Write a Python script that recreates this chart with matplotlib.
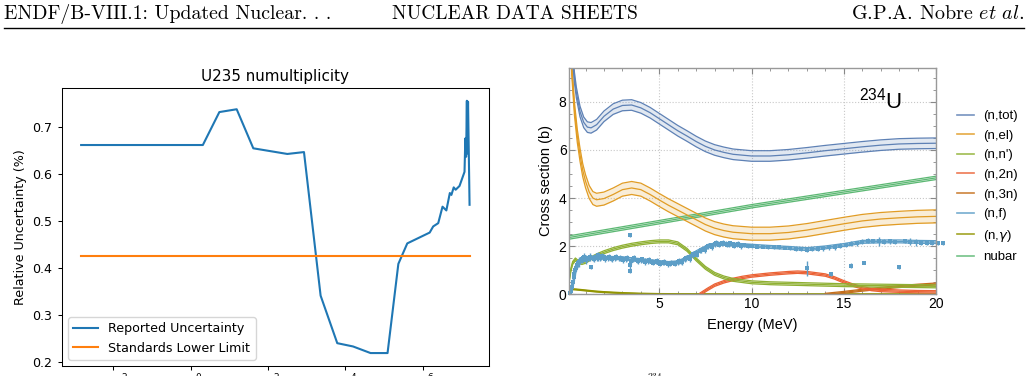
import numpy as np
import matplotlib
matplotlib.use('Agg')
import matplotlib.pyplot as plt
from matplotlib.lines import Line2D
from matplotlib.ticker import FixedLocator, NullLocator, MultipleLocator

plt.rcParams['mathtext.rm'] = 'Liberation Sans'
plt.rcParams['mathtext.it'] = 'Liberation Sans:italic'

# ---------------- left panel data (U235 nu multiplicity uncertainty) ----------
nu_energy = [1.48e-3, 2.07, 5.53, 15.5, 41.7, 316, 851, 2290, 6170, 1.58e4, 4.47e4,
             1.23e5, 2.34e5, 3.98e5, 1.51e6, 1.86e6, 2.51e6, 3.24e6, 4.07e6, 5.01e6,
             5.5e6, 6.31e6, 7.08e6, 8.91e6, 1.2e7, 1.26e7, 1.32e7, 1.38e7, 1.41e7,
             1.48e7, 1.62e7]
nu_unc = [0.661, 0.661, 0.731, 0.737, 0.654, 0.642, 0.646, 0.341, 0.240, 0.233, 0.219,
          0.219, 0.4085, 0.452, 0.475, 0.488, 0.495, 0.530, 0.522, 0.559,
          0.555, 0.571, 0.566, 0.574, 0.604, 0.675, 0.636, 0.755, 0.643,
          0.753, 0.534]
std_limit = 0.4245
left_xticks = [1e-2, 1e0, 1e2, 1e4, 1e6]
left_xticklabels = [r'$\mathdefault{10^{-2}}$', r'$\mathdefault{10^{0}}$',
                    r'$\mathdefault{10^{2}}$', r'$\mathdefault{10^{4}}$',
                    r'$\mathdefault{10^{6}}$']

# ---------------- right panel data (234U cross sections, MeV / b) -------------
tot_E = [0.1, 0.2, 0.3, 0.4, 0.5, 0.7, 0.9, 1.1, 1.3, 1.6, 2.0, 2.5, 3.0, 3.5, 4.0, 4.5,
         5.0, 5.5, 6.0, 6.5, 7, 7.5, 8, 8.5, 9, 10, 11, 12, 13, 14, 15, 16, 17, 18, 19, 20]
tot_xs = [14, 11.5, 9.9, 9.0, 8.4, 7.6, 7.15, 6.95, 6.92, 7.05, 7.4, 7.7, 7.85, 7.87,
          7.75, 7.55, 7.3, 7.05, 6.8, 6.58, 6.35, 6.15, 6.0, 5.9, 5.82, 5.75, 5.75, 5.8,
          5.88, 5.97, 6.05, 6.13, 6.2, 6.25, 6.27, 6.28]
tot_err = 0.22

el_E = [0.1, 0.25, 0.4, 0.55, 0.7, 0.85, 1.0, 1.2, 1.4, 1.6, 2.0, 2.5, 3.0, 3.5, 4.0,
        4.5, 5.0, 5.5, 6.0, 6.5, 7, 7.5, 8, 8.5, 9, 10, 11, 12, 13, 14, 15, 16, 17, 18,
        19, 20]
el_xs = [13, 9.4, 7.7, 6.6, 5.8, 5.15, 4.7, 4.25, 4.0, 3.93, 3.98, 4.15, 4.35, 4.42,
         4.35, 4.15, 3.92, 3.7, 3.5, 3.3, 3.1, 2.9, 2.75, 2.65, 2.58, 2.52, 2.52, 2.57,
         2.67, 2.8, 2.93, 3.05, 3.13, 3.18, 3.22, 3.24]
el_err = 0.27

inel_E = [0.1, 0.2, 0.3, 0.45, 0.6, 0.8, 1.0, 1.3, 1.6, 2.0, 2.5, 3.0, 3.5, 4.0, 4.5,
          5.0, 5.5, 6.0, 6.5, 7.0, 7.5, 8.0, 8.5, 9, 10, 11, 12, 13, 14, 15, 16, 17,
          18, 19, 20]
inel_xs = [0.5, 1.0, 1.3, 1.45, 1.35, 1.3, 1.35, 1.5, 1.62, 1.75, 1.88, 1.98, 2.06,
           2.12, 2.17, 2.2, 2.2, 2.12, 1.85, 1.45, 1.1, 0.85, 0.7, 0.6, 0.5, 0.46,
           0.44, 0.42, 0.4, 0.38, 0.37, 0.36, 0.35, 0.34, 0.33]
inel_err = 0.06

n2n_E = [7.2, 7.6, 8, 8.5, 9, 9.5, 10, 10.5, 11, 11.5, 12, 12.5, 13, 13.5, 14, 14.5,
         15, 15.5, 16, 16.5, 17, 18, 19, 20]
n2n_xs = [0, 0.2, 0.38, 0.52, 0.62, 0.7, 0.76, 0.8, 0.84, 0.87, 0.9, 0.92, 0.9, 0.85,
          0.8, 0.68, 0.52, 0.38, 0.27, 0.2, 0.16, 0.13, 0.11, 0.1]
n2n_err = 0.05

n3n_E = [14, 15, 16, 17, 18, 19, 20]
n3n_xs = [0, 0.08, 0.17, 0.25, 0.32, 0.38, 0.43]
n3n_err = 0.04

fis_E = [0.1, 0.3, 0.5, 0.7, 1.0, 1.5, 2, 3, 4, 5, 5.5, 6, 6.5, 7, 7.5, 8, 8.5, 9, 10,
         11, 12, 13, 14, 15, 16, 17, 18, 19, 20]
fis_xs = [0.02, 0.45, 1.05, 1.35, 1.5, 1.52, 1.52, 1.5, 1.42, 1.34, 1.3, 1.33, 1.5,
          1.75, 1.95, 2.08, 2.1, 2.07, 2.02, 1.97, 1.93, 1.88, 1.95, 2.05, 2.18, 2.2,
          2.2, 2.18, 2.17]
fis_err = 0.06

cap_E = [0.1, 0.5, 1, 1.5, 2, 3, 4, 5, 6, 8, 10, 15, 20]
cap_xs = [0.22, 0.2, 0.16, 0.12, 0.09, 0.05, 0.025, 0.01, 0.005, 0.002, 0.001, 0.0, 0.0]
cap_err = 0.02

nubar_E = [0.1, 5, 10, 15, 20]
nubar_val = [2.36, 3.0, 3.66, 4.25, 4.84]
nubar_err = 0.07

# experimental (n,f) points, first data set
exp_E = [0.15, 0.2, 0.25, 0.3, 0.35, 0.4, 0.45, 0.5, 0.55, 0.6, 0.7, 0.8, 0.9, 1.0,
         1.1, 1.2, 1.3, 1.4, 1.5, 1.6, 1.7, 1.8, 1.9, 2.0, 2.2, 2.4, 2.6, 2.8, 3.0,
         3.2, 3.4, 3.4, 3.4, 3.6, 3.8, 4.0, 4.2, 4.4, 4.6, 4.8, 5.0, 5.2, 5.4, 5.6,
         5.8, 6.0, 6.2, 6.4, 6.6, 6.8, 7.0, 7.2, 7.4, 7.6, 7.8, 8.0, 8.2, 8.4, 8.6,
         8.8, 9.0, 9.2, 9.4, 9.6, 9.8, 10.0, 10.3, 10.6, 10.9, 11.2, 11.5, 11.8, 12.1,
         12.4, 12.7, 13.0, 13.0, 13.3, 13.6, 13.9, 14.2, 14.3, 14.5, 14.8, 15.1, 15.4,
         15.4, 15.7, 16.0, 16.1, 16.3, 16.6, 16.9, 17.2, 17.5, 17.8, 18.0, 18.3, 18.6,
         18.9, 19.2, 19.5, 19.8, 20.1, 20.4]
exp_xs = [0.05, 0.15, 0.3, 0.5, 0.7, 0.85, 1.0, 1.1, 1.2, 1.3, 1.4, 1.45, 1.55, 1.5,
          1.45, 1.5, 1.15, 1.5, 1.55, 1.5, 1.55, 1.5, 1.6, 1.55, 1.5, 1.5, 1.5, 1.5,
          1.48, 1.45, 2.45, 1.2, 0.95, 1.45, 1.42, 1.42, 1.4, 1.38, 1.36, 1.35, 1.32,
          1.3, 1.3, 1.28, 1.3, 1.33, 1.38, 1.45, 1.55, 1.62, 1.72, 1.8, 1.9, 1.98,
          2.05, 2.08, 2.1, 2.12, 2.1, 2.08, 2.08, 2.06, 2.05, 2.04, 2.02, 2.0, 1.98,
          1.98, 1.96, 1.95, 1.95, 1.93, 1.92, 1.88, 1.88, 1.85, 1.08, 1.88, 1.9, 1.92,
          1.95, 0.84, 1.98, 2.02, 2.05, 2.1, 1.19, 2.12, 2.18, 1.29, 2.22, 2.2, 2.2,
          2.18, 2.2, 2.18, 1.15, 2.2, 2.18, 2.16, 2.15, 2.15, 2.12, 2.12, 2.12]
exp_err = [0.05, 0.08, 0.1, 0.12, 0.12, 0.15, 0.2, 0.15, 0.12, 0.12, 0.12, 0.15, 0.15,
           0.12, 0.12, 0.12, 0.08, 0.12, 0.12, 0.1, 0.15, 0.1, 0.1, 0.12, 0.1, 0.1,
           0.1, 0.1, 0.1, 0.1, 0.05, 0.2, 0.05, 0.1, 0.1, 0.1, 0.1, 0.1, 0.1,
           0.1, 0.1, 0.1, 0.1, 0.1, 0.1, 0.1, 0.1, 0.1, 0.1, 0.1, 0.1, 0.1,
           0.1, 0.1, 0.1, 0.1, 0.1, 0.1, 0.1, 0.1, 0.08, 0.08, 0.08, 0.08, 0.08,
           0.08, 0.06, 0.06, 0.06, 0.06, 0.06, 0.06, 0.06, 0.06, 0.06, 0.1, 0.3, 0.08,
           0.08, 0.1, 0.1, 0.08, 0.12, 0.1, 0.1, 0.1, 0.1, 0.1, 0.1, 0.05, 0.1, 0.08,
           0.2, 0.1, 0.1, 0.08, 0.08, 0.08, 0.15, 0.15, 0.08, 0.08, 0.08, 0.08, 0.08]

# experimental (n,f) points, second (dense) data set
exp2_E = [0.65, 0.85, 1.05, 1.25, 1.45, 1.65, 1.85, 2.05, 2.25, 2.45, 2.65, 2.85, 3.05,
          3.25, 3.45, 3.65, 3.85, 4.05, 4.25, 4.45, 4.65, 4.85, 5.05, 5.25, 5.45, 5.65,
          5.85, 6.05, 6.25, 6.45, 6.65, 6.85, 7.05, 7.25, 7.45, 7.65, 7.85, 8.05, 8.25,
          8.45, 8.65, 8.85, 9.05, 9.25, 9.45]
exp2_xs = [1.35, 1.5, 1.42, 1.55, 1.45, 1.62, 1.55, 1.45, 1.55, 1.45, 1.55, 1.52, 1.42,
           1.52, 1.38, 1.5, 1.38, 1.45, 1.35, 1.42, 1.32, 1.38, 1.28, 1.35, 1.25, 1.32,
           1.28, 1.38, 1.35, 1.5, 1.48, 1.68, 1.65, 1.85, 1.85, 2.02, 1.98, 2.15, 2.05,
           2.15, 2.05, 2.12, 2.02, 2.1, 2.0]
exp2_err = [0.2, 0.15, 0.15, 0.15, 0.12, 0.12, 0.12, 0.12, 0.12, 0.12, 0.12, 0.12, 0.12,
            0.12, 0.12, 0.12, 0.12, 0.12, 0.12, 0.12, 0.12, 0.12, 0.12, 0.12, 0.12, 0.12,
            0.12, 0.12, 0.12, 0.12, 0.12, 0.12, 0.12, 0.12, 0.12, 0.12, 0.12, 0.12, 0.1,
            0.1, 0.1, 0.1, 0.1, 0.1, 0.1]

labels_R = ['(n,tot)', '(n,el)', "(n,n')", '(n,2n)', '(n,3n)', '(n,f)',
            r'(n,$\mathit{\gamma}$)', 'nubar']
colors_R = [(0.368, 0.507, 0.710), (0.881, 0.611, 0.142), (0.560, 0.692, 0.195),
            (0.923, 0.386, 0.209), (0.772, 0.432, 0.102), (0.364, 0.619, 0.782),
            (0.572, 0.586, 0.0), (0.36, 0.72, 0.45)]

W, H = 1029, 376
fig = plt.figure(figsize=(W / 100, H / 100), dpi=100)

# ---------------- page header ----------------
fig.text(4 / W, 1 - 19 / H, 'ENDF/B-VIII.1: Updated Nuclear. . .', family='cmr10',
         fontsize=14.3, va='baseline', ha='left')
fig.text(0.5, 1 - 19 / H, 'NUCLEAR DATA SHEETS', family='cmr10', fontsize=14,
         va='baseline', ha='center')
fig.text(1024 / W, 1 - 19 / H, r'G.P.A. Nobre $\mathit{et\ al.}$', family='cmr10',
         math_fontfamily='cm', fontsize=14.5, va='baseline', ha='right')
fig.add_artist(Line2D([4 / W, 1024 / W], [1 - 27.5 / H, 1 - 27.5 / H],
                      color='black', lw=1.0, transform=fig.transFigure))
fig.text(647 / W, 3 / H, '234', family='cmr10', fontsize=7, va='top', ha='left')

# ---------------- left panel ----------------
fs = 9.1
axL = fig.add_axes([61.7 / W, 10 / H, 427.3 / W, 277.7 / H])
axL.plot(nu_energy, nu_unc, color='#1f77b4', lw=1.5, label='Reported Uncertainty')
axL.plot([nu_energy[0], nu_energy[-1]], [std_limit, std_limit], color='#ff7f0e',
         lw=1.5, label='Standards Lower Limit')
axL.set_xscale('log')
axL.set_xlim(10 ** -3.332, 10 ** 7.712)
axL.set_ylim(0.1915, 0.7815)
axL.xaxis.set_major_locator(FixedLocator(left_xticks))
axL.set_xticklabels(left_xticklabels)
axL.xaxis.set_minor_locator(NullLocator())
axL.yaxis.set_major_locator(MultipleLocator(0.1))
axL.tick_params(labelsize=fs, length=3.2, width=0.75)
axL.tick_params(axis='x', pad=1.5)
for sp in axL.spines.values():
    sp.set_linewidth(0.75)
axL.set_ylabel('Relative Uncertainty (%)', fontsize=fs)
axL.set_title('U235 numultiplicity', fontsize=fs * 1.2, pad=5.5)
axL.legend(loc='lower left', fontsize=fs)

# ---------------- right panel ----------------
axR = fig.add_axes([569.3 / W, 81.7 / H, 366.7 / W, 226.6 / H])
sans = 'Liberation Sans'


def band(E, s, d, color, alpha):
    E = np.asarray(E, float)
    s = np.asarray(s, float)
    axR.fill_between(E, s - d, s + d, color=color, alpha=alpha, lw=0)
    for y in (s - d, s, s + d):
        axR.plot(E, y, color=color, lw=0.9)


band(nubar_E, nubar_val, nubar_err, colors_R[7], 0.15)
band(cap_E, cap_xs, cap_err, colors_R[6], 0.15)
band(n3n_E, n3n_xs, n3n_err, colors_R[4], 0.15)
band(n2n_E, n2n_xs, n2n_err, colors_R[3], 0.15)
band(inel_E, inel_xs, inel_err, colors_R[2], 0.15)
band(el_E, el_xs, el_err, colors_R[1], 0.18)
band(tot_E, tot_xs, tot_err, colors_R[0], 0.18)
band(fis_E, fis_xs, fis_err, colors_R[5], 0.15)

for xE, xS, xErr in ((exp_E, exp_xs, exp_err), (exp2_E, exp2_xs, exp2_err)):
    eb = axR.errorbar(xE, xS, yerr=xErr, fmt='s', ms=3.0, color=colors_R[5],
                      ecolor=colors_R[5], elinewidth=1.0, capsize=1.8, capthick=1.0,
                      mew=0)
    for art in [eb.lines[0]] + list(eb.lines[1]) + list(eb.lines[2]):
        art.set_clip_on(False)

axR.set_xlim(0.12, 20)
axR.set_ylim(0, 9.42)
axR.xaxis.set_major_locator(FixedLocator([5, 10, 15, 20]))
axR.xaxis.set_minor_locator(MultipleLocator(1))
axR.yaxis.set_major_locator(FixedLocator([0, 2, 4, 6, 8]))
axR.yaxis.set_minor_locator(MultipleLocator(0.5))
axR.tick_params(which='both', direction='in', top=True, right=True, color='#888888',
                labelsize=10, pad=2)
axR.tick_params(which='major', length=4, width=0.8)
axR.tick_params(which='minor', length=2, width=0.6)
for lab in axR.get_xticklabels() + axR.get_yticklabels():
    lab.set_family(sans)
for sp in axR.spines.values():
    sp.set_color('#999999')
    sp.set_linewidth(1.0)
axR.grid(True, which='major', ls=':', color='#c8c8c8', lw=0.8)
axR.set_axisbelow(True)
axR.set_xlabel('Energy (MeV)', fontsize=10.5, family=sans, labelpad=5)
axR.set_ylabel('Cross section (b)', fontsize=10.5, family=sans, labelpad=4)
axR.text(0.79, 0.82, r'$^{\mathrm{234}}$U', transform=axR.transAxes, fontsize=16,
         family=sans, math_fontfamily='custom', ha='left', va='baseline')

handles = [Line2D([], [], color=c, lw=1.2, alpha=0.85) for c in colors_R]
axR.legend(handles, labels_R, loc='upper left', bbox_to_anchor=(957 / W, 1 - 110 / H),
           bbox_transform=fig.transFigure, frameon=False,
           prop={'family': sans, 'size': 9.5}, handlelength=1.3, handletextpad=0.65,
           labelspacing=0.56, borderpad=0, borderaxespad=0)

fig.savefig('out.png', dpi=100)
